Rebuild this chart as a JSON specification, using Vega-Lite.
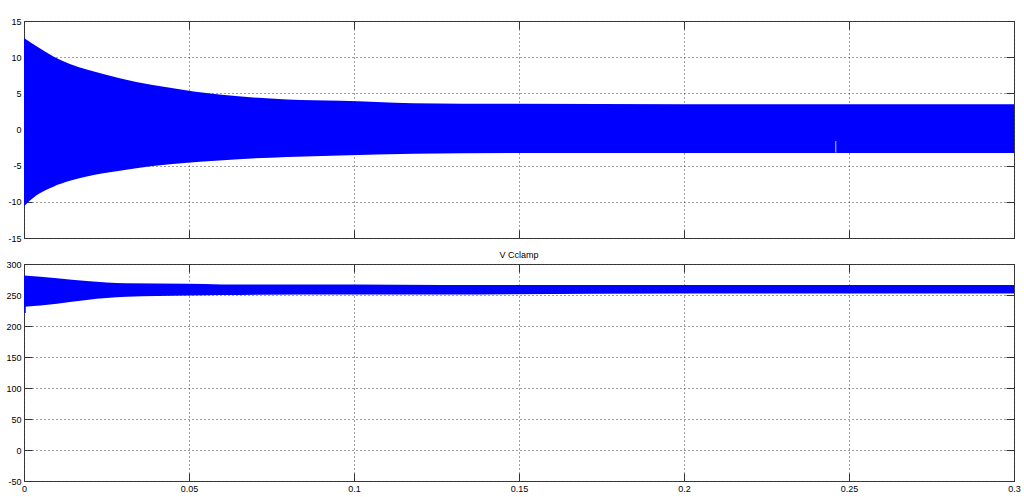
{
  "$schema": "https://vega.github.io/schema/vega-lite/6.json",
  "autosize": {"type": "pad"},
  "padding": {"left": 5, "top": 16, "right": 5, "bottom": 3},
  "background": "white",
  "spacing": 6,
  "datasets": {
    "top": [
      {"t": 0.0, "lo": -10.6, "hi": 12.65},
      {"t": 0.0038, "lo": -9.1, "hi": 11.5},
      {"t": 0.0089, "lo": -7.9, "hi": 10.1},
      {"t": 0.0139, "lo": -7.1, "hi": 9.05},
      {"t": 0.019, "lo": -6.5, "hi": 8.3},
      {"t": 0.029, "lo": -5.7, "hi": 7.1},
      {"t": 0.039, "lo": -5.05, "hi": 6.15},
      {"t": 0.0495, "lo": -4.6, "hi": 5.4},
      {"t": 0.0533, "lo": -4.45, "hi": 5.15},
      {"t": 0.065, "lo": -4.1, "hi": 4.6},
      {"t": 0.0797, "lo": -3.8, "hi": 4.15},
      {"t": 0.0958, "lo": -3.6, "hi": 3.97},
      {"t": 0.118, "lo": -3.35, "hi": 3.64},
      {"t": 0.148, "lo": -3.26, "hi": 3.55},
      {"t": 0.2, "lo": -3.26, "hi": 3.5},
      {"t": 0.3, "lo": -3.26, "hi": 3.5}
    ],
    "spike": [
      {"t": 0.246, "a": -1.6, "b": -3.2}
    ],
    "bottom": [
      {"t": 0.0, "lo": 231, "hi": 281.5},
      {"t": 0.01, "lo": 236, "hi": 277},
      {"t": 0.019, "lo": 242, "hi": 272.6},
      {"t": 0.031, "lo": 247, "hi": 268.8},
      {"t": 0.0497, "lo": 249, "hi": 268},
      {"t": 0.06, "lo": 250, "hi": 267},
      {"t": 0.1, "lo": 251, "hi": 267},
      {"t": 0.127, "lo": 251, "hi": 266},
      {"t": 0.2, "lo": 252.5, "hi": 266},
      {"t": 0.3, "lo": 252.5, "hi": 266}
    ],
    "dip": [
      {"t": 0.0003, "a": 221, "b": 240}
    ]
  },
  "vconcat": [
    {
      "width": 990,
      "height": 217,
      "resolve": {"axis": {"x": "independent", "y": "independent"}},
      "layer": [
        {
          "data": {"name": "top"},
          "mark": {"type": "area", "color": "#0000ff", "opacity": 1, "interpolate": "monotone"},
          "encoding": {
            "x": {"field": "t", "type": "quantitative", "scale": {"domain": [0, 0.3], "nice": false},
                  "axis": {"orient": "bottom", "labels": false, "title": null, "values": [0, 0.05, 0.1, 0.15, 0.2, 0.25, 0.3]}},
            "y": {"field": "hi", "type": "quantitative", "scale": {"domain": [-15, 15], "nice": false},
                  "axis": {"orient": "left", "title": null, "values": [-15, -10, -5, 0, 5, 10, 15], "labelExpr": "toString(datum.value)", "labelPadding": 11}},
            "y2": {"field": "lo"}
          }
        },
        {
          "data": {"name": "spike"},
          "mark": {"type": "rule", "color": "#b8c8f0", "strokeWidth": 1},
          "encoding": {
            "x": {"field": "t", "type": "quantitative",
                  "axis": {"orient": "top", "labels": false, "grid": false, "title": null, "values": [0, 0.05, 0.1, 0.15, 0.2, 0.25, 0.3]}},
            "y": {"field": "a", "type": "quantitative",
                  "axis": {"orient": "right", "labels": false, "grid": false, "title": null, "values": [-15, -10, -5, 0, 5, 10, 15]}},
            "y2": {"field": "b"}
          }
        }
      ]
    },
    {
      "width": 990,
      "height": 217,
      "title": {"text": "V Cclamp", "fontSize": 9, "fontWeight": "normal", "font": "Liberation Sans", "color": "black", "offset": 0},
      "resolve": {"axis": {"x": "independent", "y": "independent"}},
      "layer": [
        {
          "data": {"name": "bottom"},
          "mark": {"type": "area", "color": "#0000ff", "opacity": 1, "interpolate": "monotone"},
          "encoding": {
            "x": {"field": "t", "type": "quantitative", "scale": {"domain": [0, 0.3], "nice": false},
                  "axis": {"orient": "bottom", "title": null, "values": [0, 0.05, 0.1, 0.15, 0.2, 0.25, 0.3], "format": ".2~f", "labelPadding": 11}},
            "y": {"field": "hi", "type": "quantitative", "scale": {"domain": [-50, 300], "nice": false},
                  "axis": {"orient": "left", "title": null, "values": [-50, 0, 50, 100, 150, 200, 250, 300], "labelExpr": "toString(datum.value)", "labelPadding": 11}},
            "y2": {"field": "lo"}
          }
        },
        {
          "data": {"name": "dip"},
          "mark": {"type": "rule", "color": "#0000ff", "strokeWidth": 1.5},
          "encoding": {
            "x": {"field": "t", "type": "quantitative",
                  "axis": {"orient": "top", "labels": false, "grid": false, "title": null, "values": [0, 0.05, 0.1, 0.15, 0.2, 0.25, 0.3]}},
            "y": {"field": "a", "type": "quantitative",
                  "axis": {"orient": "right", "labels": false, "grid": false, "title": null, "values": [-50, 0, 50, 100, 150, 200, 250, 300]}},
            "y2": {"field": "b"}
          }
        }
      ]
    }
  ],
  "config": {
    "view": {"stroke": "#333333", "strokeWidth": 1},
    "axis": {
      "domain": false,
      "grid": true,
      "gridColor": "#444444",
      "gridDash": [1, 3],
      "gridOpacity": 1,
      "gridWidth": 1,
      "ticks": true,
      "tickColor": "#333333",
      "tickSize": -8,
      "tickWidth": 1,
      "labelFont": "Liberation Sans",
      "labelFontSize": 9,
      "labelColor": "black",
      "labelPadding": 3,
      "labelFlush": false
    }
  }
}
